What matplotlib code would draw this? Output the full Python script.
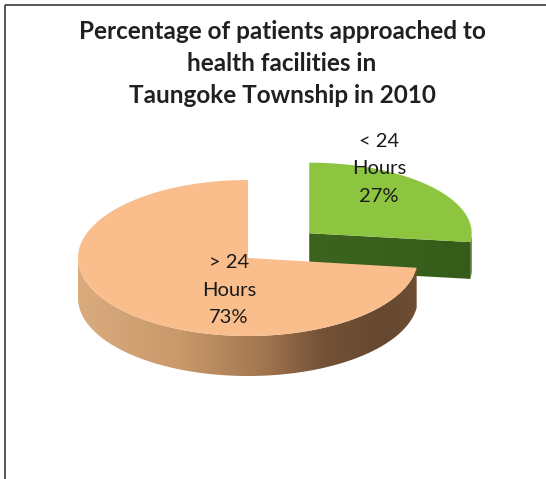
import numpy as np
import matplotlib
matplotlib.use('Agg')
import matplotlib.pyplot as plt
from matplotlib.patches import Polygon
from matplotlib.colors import LinearSegmentedColormap

# ---------------- data ----------------
title_lines = ["Percentage of patients approached to",
               "health facilities in",
               "Taungoke Township in 2010"]
categories = ["< 24\nHours", "> 24\nHours"]
values = [27, 73]
explode = [0.48, 0.0]

# ---------------- layout / style ----------------
W, H = 546, 479
top_colors = ['#8DC540', '#F9BE8C']
side_stops = [
    [(0.0, (0.26, 0.42, 0.14)), (1.0, (0.21, 0.36, 0.10))],
    [(0.0, (0.85, 0.67, 0.49)), (0.3, (0.79, 0.60, 0.42)), (0.55, (0.63, 0.46, 0.31)),
     (0.72, (0.45, 0.32, 0.21)), (0.9, (0.40, 0.28, 0.19)), (1.0, (0.43, 0.31, 0.20))],
]
label_pos = [(379, 147), (229, 268)]  # baseline of first line
line_step = 27.5
cx, cy, rx, ry, depth = 248.0, 258.0, 170.0, 78.0, 40.0
persp_x, persp_y = 0.14, 0.30   # mild perspective shrink for slices pushed back

fig = plt.figure(figsize=(W / 100, H / 100), dpi=100)
ax = fig.add_axes([0, 0, 1, 1])


def pt(t, c, sx, sy):
    r = np.radians(t)
    return c[0] + sx * rx * np.sin(r), c[1] - sy * ry * np.cos(r)


def arc(t0, t1, c, sx, sy, n=200):
    ts = np.linspace(t0, t1, n)
    return [pt(t, c, sx, sy) for t in ts]


def grad_fill(verts, stops, x0, x1, zorder):
    poly = Polygon(verts, closed=True, facecolor='none', edgecolor='none', zorder=zorder)
    ax.add_patch(poly)
    cmap = LinearSegmentedColormap.from_list('g', stops)
    grad = np.linspace(0, 1, 256).reshape(1, -1)
    ys = [v[1] for v in verts]
    im = ax.imshow(grad, cmap=cmap, extent=(x0, x1, max(ys), min(ys)),
                   aspect='auto', zorder=zorder, interpolation='bilinear')
    im.set_clip_path(poly)


total = float(sum(values))
bounds = np.concatenate([[0], np.cumsum(values)]) / total * 360.0

for i, v in enumerate(values):
    a1, a2 = bounds[i], bounds[i + 1]
    mid = (a1 + a2) / 2
    mr = np.radians(mid)
    c = (cx + explode[i] * rx * np.sin(mr), cy - explode[i] * ry * np.cos(mr))
    dyn = (c[1] - cy) / ry
    sx, sy = 1 + persp_x * dyn, 1 + persp_y * dyn
    d = depth * (1 + 0.25 * dyn)
    z = 1 + 3 * i
    gx0 = c[0] - sx * rx
    gx1 = c[0] + sx * rx
    # radial cut faces
    for a, visible in ((a1, np.sin(np.radians(a1)) < -1e-9), (a2, np.sin(np.radians(a2)) > 1e-9)):
        if visible:
            p = pt(a, c, sx, sy)
            verts = [c, p, (p[0], p[1] + d), (c[0], c[1] + d)]
            grad_fill(verts, side_stops[i], gx0, gx1, z)
    # outer rim (front half)
    s, e = max(a1, 90.0), min(a2, 270.0)
    if e > s:
        top = arc(s, e, c, sx, sy)
        bot = [(x, y + d) for x, y in top[::-1]]
        grad_fill(top + bot, side_stops[i], gx0, gx1, z + 0.5)
    # top face
    face = [c] + arc(a1, a2, c, sx, sy, 400)
    ax.add_patch(Polygon(face, closed=True, facecolor=top_colors[i], edgecolor='none', zorder=z + 1))
    # label
    lx, ly = label_pos[i]
    lines = (categories[i] + "\n" + f"{v}%").split("\n")
    for k, line in enumerate(lines):
        ax.text(lx, ly + k * line_step, line, ha='center', va='baseline',
                fontsize=14.5, family='Lato', color='#1a1a1a', zorder=10)

# title
for k, line in enumerate(title_lines):
    ax.text(282, 39 + 32 * k, line, ha='center', va='baseline', fontsize=17.5,
            family='Lato', fontweight='bold', color='#231f20', zorder=10)

# frame
ax.plot([5, 5], [H, 5], color='#3a3a3a', lw=1.2, solid_capstyle='butt', zorder=11)
ax.plot([5, W], [5, 5], color='#3a3a3a', lw=1.2, solid_capstyle='butt', zorder=11)

ax.set_xlim(0, W)
ax.set_ylim(H, 0)
ax.set_aspect('auto')
ax.axis('off')
fig.savefig('out.png', dpi=100)
